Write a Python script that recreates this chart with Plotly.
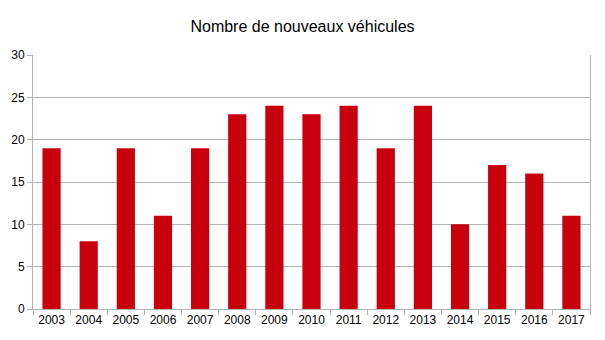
import plotly.graph_objects as go

years = ["2003", "2004", "2005", "2006", "2007", "2008", "2009", "2010",
         "2011", "2012", "2013", "2014", "2015", "2016", "2017"]
values = [19, 8, 19, 11, 19, 23, 24, 23, 24, 19, 24, 10, 17, 16, 11]
title = "Nombre de nouveaux véhicules"

fig = go.Figure(go.Bar(x=years, y=values, marker=dict(color="#C8000E", line=dict(width=0)),
                       hoverinfo="x+y"))

fig.update_layout(
    width=605, height=340,
    margin=dict(l=33, r=15, t=55, b=31),
    paper_bgcolor="white", plot_bgcolor="white",
    font=dict(family="Liberation Sans, Arial, sans-serif", size=12, color="#000000"),
    title=dict(text=title, x=0.5, xanchor="center", y=0.922, yanchor="middle",
               font=dict(size=16, color="#000000")),
    bargap=0.51,
    showlegend=False,
)
fig.update_xaxes(
    type="category", showline=True, linecolor="#b3b3b3", linewidth=1,
    ticks="outside", ticklen=5, tickcolor="#b3b3b3", tickson="boundaries",
    showgrid=False, tickfont=dict(size=12),
)
fig.update_yaxes(
    range=[0, 30], dtick=5, showline=True, mirror=True, linecolor="#b3b3b3", linewidth=1,
    ticks="outside", ticklen=5, tickcolor="#b3b3b3",
    showgrid=True, gridcolor="#b3b3b3", gridwidth=1, zeroline=False,
    tickfont=dict(size=12),
)

fig.write_html("out.html")
